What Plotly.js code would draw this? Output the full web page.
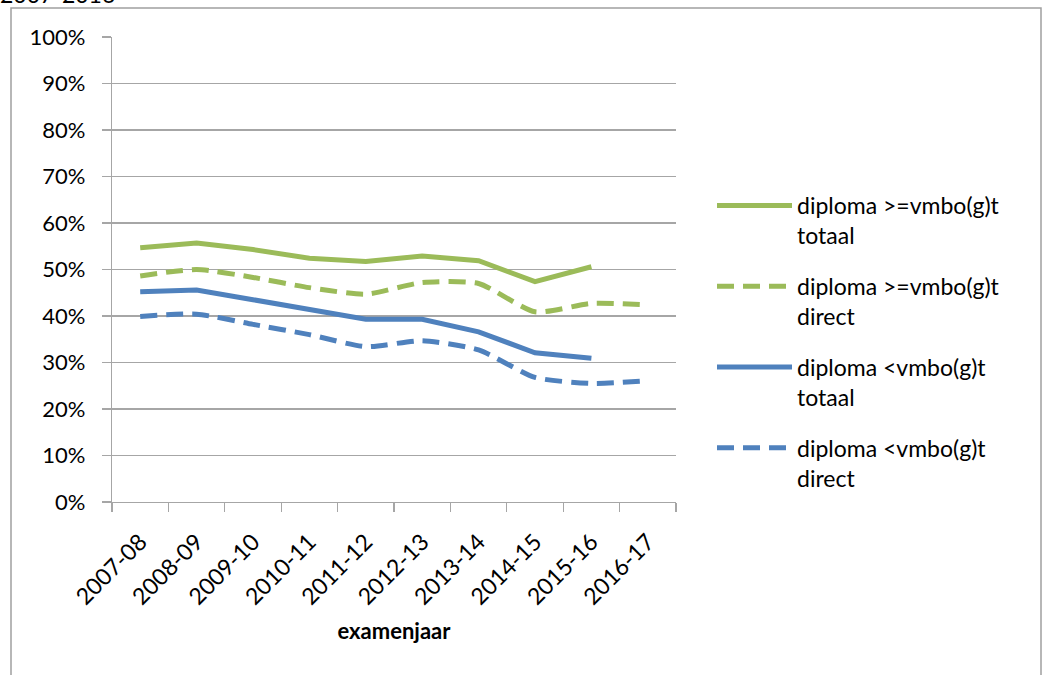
<!DOCTYPE html>
<html>
<head>
<meta charset="utf-8">
<script src="https://cdn.plot.ly/plotly-3.0.1.min.js"></script>
<style>html,body{margin:0;padding:0;background:#fff;}#chart{width:1043px;height:675px;}</style>
</head>
<body>
<div id="chart"></div>
<script>
const categories = ["2007-08","2008-09","2009-10","2010-11","2011-12","2012-13","2013-14","2014-15","2015-16","2016-17"];
const geTotaal  = [0.547,0.557,0.543,0.524,0.517,0.529,0.519,0.474,0.506,null];
const geDirect  = [0.486,0.500,0.483,0.461,0.447,0.472,0.470,0.409,0.427,0.424];
const ltTotaal  = [0.452,0.456,0.435,0.415,0.393,0.393,0.366,0.321,0.309,null];
const ltDirect  = [0.399,0.404,0.382,0.360,0.334,0.347,0.327,0.268,0.255,0.261];
const seriesNames = ["diploma >=vmbo(g)t<br>totaal","diploma >=vmbo(g)t<br>direct","diploma <vmbo(g)t<br>totaal","diploma <vmbo(g)t<br>direct"];
const yTickVals = [0,0.1,0.2,0.3,0.4,0.5,0.6,0.7,0.8,0.9,1.0];
const yTickText = ["0%","10%","20%","30%","40%","50%","60%","70%","80%","90%","100%"];

const GREEN = "#9BBB59", BLUE = "#4F81BD", GRID = "#A6A6A6";
const FONT = "Lato, 'Open Sans', sans-serif";
const DASH = "17px,9px";

const traces = [
  {x: categories, y: geTotaal, name: seriesNames[0], legendgroup: "a", mode: "lines", line: {color: GREEN, width: 5}},
  {x: categories, y: geDirect, name: seriesNames[1], legendgroup: "b", mode: "lines", line: {color: GREEN, width: 5, dash: DASH, shape: "spline", smoothing: 0.6}},
  {x: categories, y: ltTotaal, name: seriesNames[2], legendgroup: "c", mode: "lines", line: {color: BLUE, width: 5}},
  {x: categories, y: ltDirect, name: seriesNames[3], legendgroup: "d", mode: "lines", line: {color: BLUE, width: 5, dash: DASH, shape: "spline", smoothing: 0.6}}
];

const W = 564, H = 465, L = 112, T = 37;
function px(x){return (x - L)/W;}
function py(y){return (T + H - y)/H;}

const layout = {
  width: 1043, height: 675,
  margin: {l: L, r: 1043 - L - W, t: T, b: 675 - T - H, pad: 0},
  paper_bgcolor: "#fff", plot_bgcolor: "#fff",
  font: {family: FONT, size: 22, color: "#000"},
  showlegend: true,
  legend: {x: px(712), y: py(184), xanchor: "left", yanchor: "top", font: {family: FONT, size: 23, color: "#000"},
           itemwidth: 75, valign: "top", tracegroupgap: 18, bgcolor: "rgba(0,0,0,0)"},
  xaxis: {type: "category", tickangle: -45, showgrid: false, zeroline: false,
          showline: true, linecolor: GRID, linewidth: 1.3, ticks: "outside", ticklen: 9, tickcolor: GRID, tickwidth: 1.3,
          tickson: "boundaries", range: [-0.5, 9.5], tickfont: {family: FONT, size: 23}, ticklabelstandoff: 16,
          title: {text: "<b>examenjaar</b>", font: {family: FONT, size: 22}, standoff: 15}},
  yaxis: {range: [0, 1], tickvals: yTickVals, ticktext: yTickText, showgrid: true, gridcolor: GRID, gridwidth: 1.3,
          zeroline: false, showline: true, linecolor: GRID, linewidth: 1.3, ticks: "outside", ticklen: 9, tickcolor: GRID, tickwidth: 1.3,
          ticklabelstandoff: 12, tickfont: {family: FONT, size: 22}},
  shapes: [
    {type: "rect", xref: "paper", yref: "paper", x0: px(11), x1: px(1041), y0: py(720), y1: py(8),
     line: {color: "#A0A0A0", width: 1.5}, fillcolor: "rgba(0,0,0,0)", layer: "below"}
  ],
  annotations: [
    {text: "2007-2016", xref: "paper", yref: "paper", x: px(-2), y: py(10), xanchor: "left", yanchor: "bottom",
     showarrow: false, font: {family: FONT, size: 23, color: "#000"}}
  ]
};

Plotly.newPlot("chart", traces, layout, {displayModeBar: false, staticPlot: true});
</script>
</body>
</html>
